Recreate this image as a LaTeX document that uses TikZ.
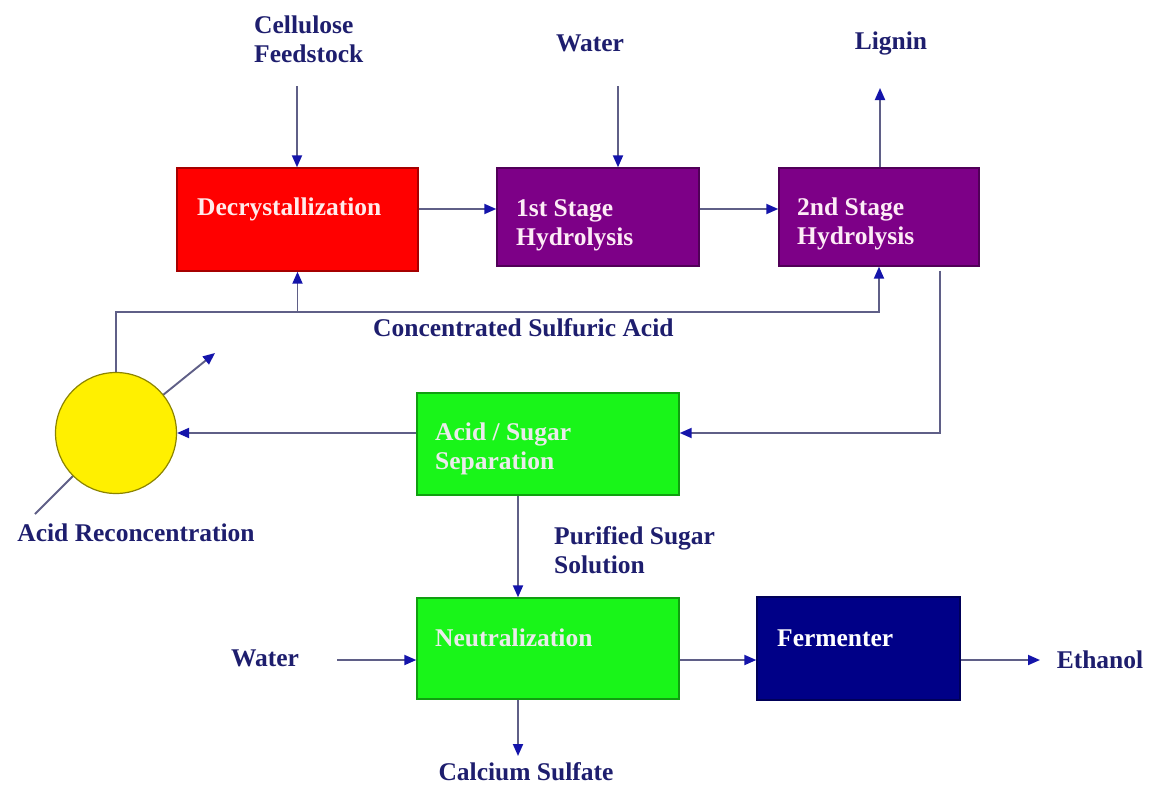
\documentclass[tikz,border=0pt]{standalone}
\usepackage{fontspec}
\setmainfont{Liberation Serif}
\usetikzlibrary{arrows.meta,calc}

\definecolor{navytext}{RGB}{30,30,110}
\definecolor{flowline}{RGB}{95,95,135}
\definecolor{flowtip}{RGB}{20,20,170}
\definecolor{decrred}{RGB}{255,0,0}
\definecolor{hydpurple}{RGB}{125,0,135}
\definecolor{sepgreen}{RGB}{25,245,25}
\definecolor{fermnavy}{RGB}{0,0,135}
\definecolor{reconyellow}{RGB}{255,240,0}

\tikzset{
	flow/.style={draw=flowline, line width=1.9pt, -{Triangle[length=12pt,width=10pt,color=flowtip]}},
	pipe/.style={draw=flowline, line width=1.9pt},
	unit/.style={draw=#1!65!black, fill=#1, line width=1.4pt, inner sep=0pt},
	intext/.style={text=white, align=left, anchor=west, inner sep=0pt},
	tag/.style={text=navytext, align=left, inner sep=0pt}
}

\begin{document}
\begin{tikzpicture}[x=1pt, y=-1pt, font={\fontsize{25.5}{29}\selectfont\bfseries}]
			%%%%% START %%%%%
			\useasboundingbox[fill=white] (0,0) rectangle (1151,792);
			
			% process units
			\node[unit=decrred, minimum width=241pt, minimum height=103pt] (decr) at (297.5,219.5) {};
			\node[unit=hydpurple, minimum width=202pt, minimum height=98pt] (hyd1) at (598,217) {};
			\node[unit=hydpurple, minimum width=200pt, minimum height=98pt] (hyd2) at (879,217) {};
			\node[unit=sepgreen, minimum width=262pt, minimum height=102pt] (sep) at (548,444) {};
			\node[unit=sepgreen, minimum width=262pt, minimum height=101pt] (neut) at (548,648.5) {};
			\node[unit=fermnavy, minimum width=203pt, minimum height=103pt] (ferm) at (858.5,648.5) {};
			
			\node[intext, text=red!8!white] (decr-t) at (197,209) {Decrystallization};
			\node[intext, text=magenta!8!white] (hyd1-t) at (516,225) {1st Stage\\Hydrolysis};
			\node[intext, text=magenta!8!white] (hyd2-t) at (797,224) {2nd Stage\\Hydrolysis};
			\node[intext, text=black!8!white] (sep-t) at (435,449) {Acid / Sugar\\Separation};
			\node[intext, text=black!8!white] (neut-t) at (435,638) {Neutralization};
			\node[intext] (ferm-t) at (777,638) {Fermenter};
			
			% acid recovery, drawn over its vent line
			\coordinate (ventlow) at (35,514);
			\coordinate (vent) at (215,353);
			\draw[pipe] (ventlow) -- (116,433);
			\draw[flow] (116,433) -- (vent);
			\node[circle, draw=reconyellow!55!black, fill=reconyellow, line width=1.2pt, minimum size=121pt, inner sep=0pt] (recon) at (116,433) {};
			
			% outside labels
			\node[tag, anchor=west] (cell) at (254,39) {Cellulose\\Feedstock};
			\node[tag] (water1) at (590,43) {Water};
			\node[tag] (lignin) at (891,43) {Lignin};
			\node[tag, anchor=west] (acid) at (373,328) {Concentrated Sulfuric Acid};
			\node[tag] (recon-t) at (136,533) {Acid Reconcentration};
			\node[tag, anchor=west] (sugar) at (554,550) {Purified Sugar\\Solution};
			\node[tag] (water2) at (265,658) {Water};
			\node[tag] (caso4) at (526,772) {Calcium Sulfate};
			\node[tag] (ethanol) at (1100,660) {Ethanol};
			
			% free ends of the streams
			\coordinate (cellin) at (297,86);
			\coordinate (water1in) at (618,86);
			\coordinate (ligout) at (880,88);
			\coordinate (bus) at (0,312);
			\coordinate (water2in) at (337,660);
			\coordinate (caout) at (518,756);
			\coordinate (ethout) at (1040,660);
			
			% streams
			\draw[flow] (cellin) -- (cellin |- decr.north);
			\draw[flow] (water1in) -- (water1in |- hyd1.north);
			\draw[flow] (hyd2.north -| ligout) -- (ligout);
			\draw[flow] (decr.east |- 0,209) -- (hyd1.west |- 0,209);
			\draw[flow] (hyd1.east |- 0,209) -- (hyd2.west |- 0,209);
			
			\draw[flow] (recon.north) |- (bus -| hyd2.south) -- (hyd2.south);
			\draw[flow] (bus -| decr.south) -- (decr.south);
			
			\draw[flow] ([xshift=-40pt,yshift=-4pt]hyd2.south east) |- ([yshift=11pt]sep.east);
			\draw[flow] ([yshift=11pt]sep.west) -- (recon.east);
			\draw[flow] ([xshift=-30pt]sep.south) -- ([xshift=-30pt]neut.north);
			
			\draw[flow] (water2in) -- (water2in -| neut.west);
			\draw[flow] (neut.east |- water2in) -- (ferm.west |- water2in);
			\draw[flow] (ferm.east |- water2in) -- (ethout);
			\draw[flow] ([xshift=-30pt]neut.south) -- (caout);
			%%%%% END %%%%%
\end{tikzpicture}
\end{document}
